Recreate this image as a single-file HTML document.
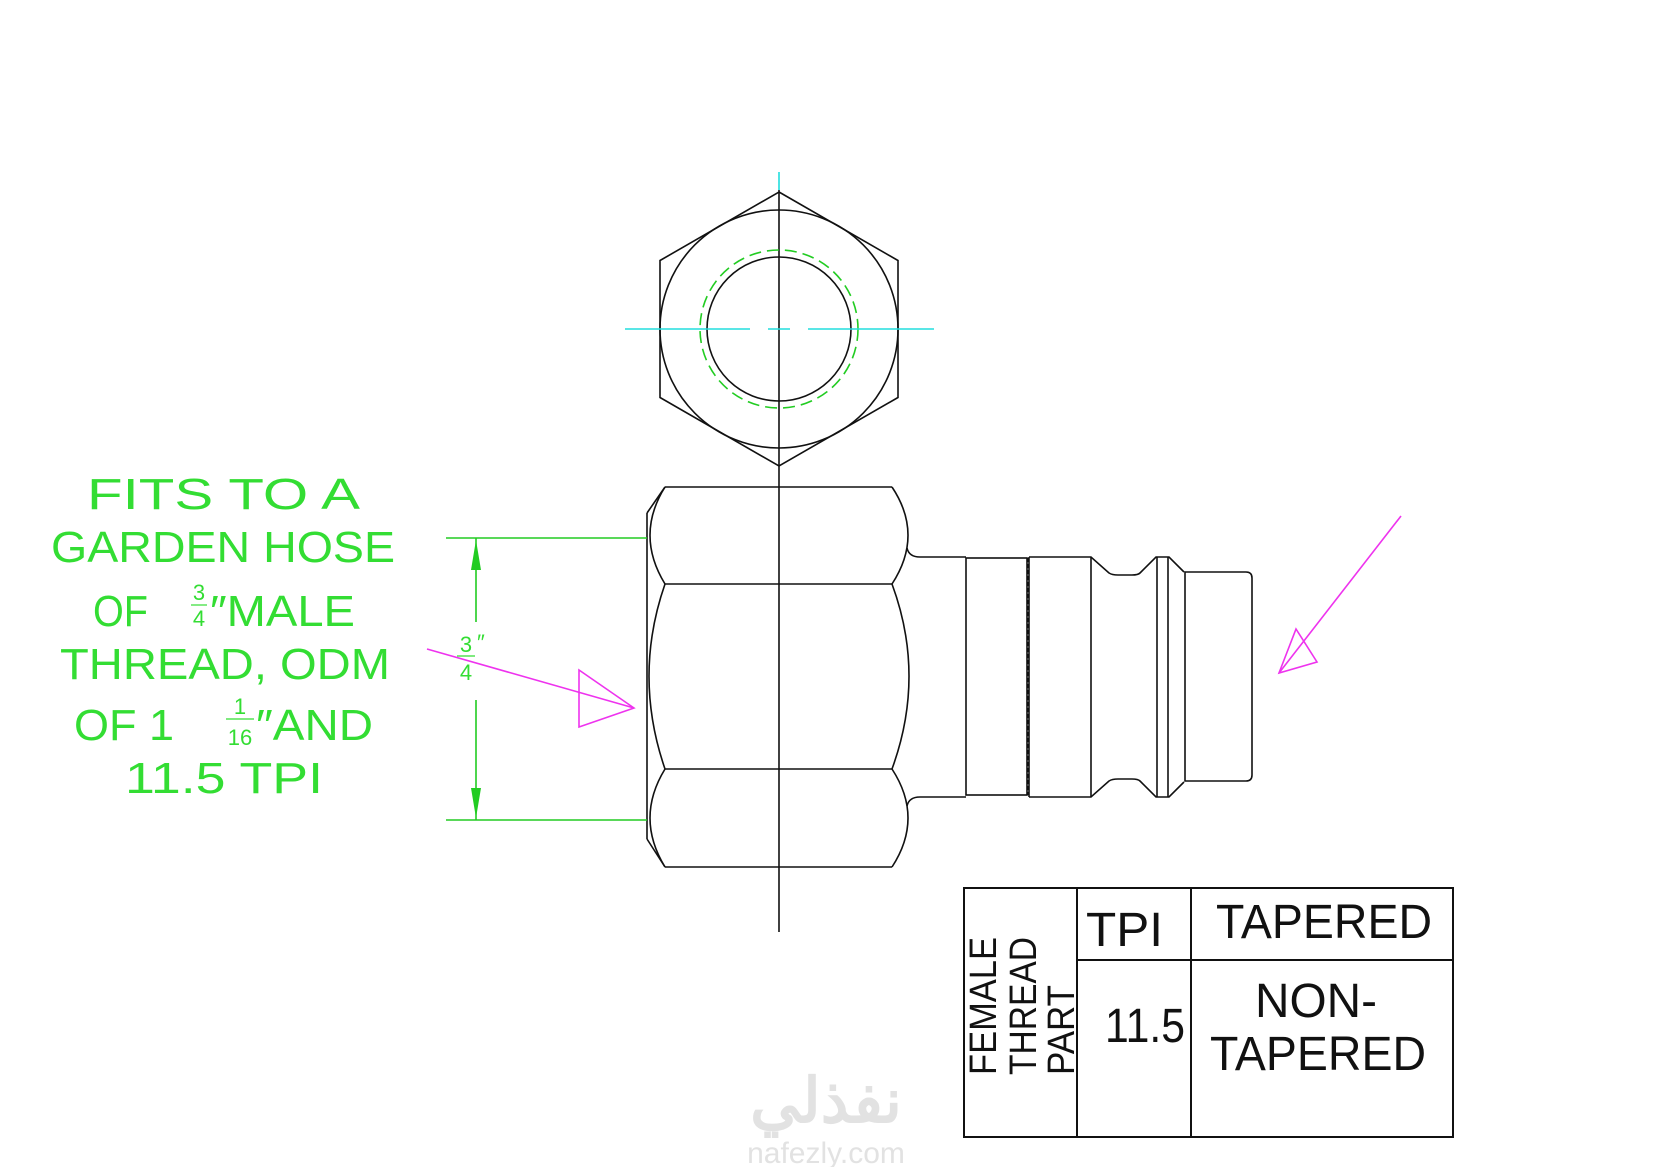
<!DOCTYPE html>
<html><head><meta charset="utf-8"><style>
html,body{margin:0;padding:0;background:#fff;}
svg{display:block;}
text{font-family:"Liberation Sans",sans-serif;}
</style></head><body>
<svg width="1653" height="1167" viewBox="0 0 1653 1167" xmlns="http://www.w3.org/2000/svg">
<rect width="1653" height="1167" fill="#fff"/>
<!-- watermark -->
<text x="826" y="1122" font-size="62" font-weight="bold" fill="#e2e2e2" text-anchor="middle" font-family="'DejaVu Sans',sans-serif">نفذلي</text>
<text x="826" y="1163" font-size="30" fill="#e2e2e2" text-anchor="middle">nafezly.com</text>

<g fill="none" stroke="#111" stroke-width="1.6">
<polygon points="779,192 898,260.5 898,397.5 779,466 660,397.5 660,260.5"/>
<circle cx="779" cy="329" r="119"/>
<circle cx="779" cy="329" r="72"/>
<line x1="779" y1="190" x2="779" y2="932"/>
<line x1="665" y1="487" x2="892" y2="487"/>
<line x1="665" y1="867" x2="892" y2="867"/>
<line x1="665" y1="584" x2="892" y2="584"/>
<line x1="665" y1="769" x2="892" y2="769"/>
<line x1="647" y1="513" x2="647" y2="839"/>
<line x1="647" y1="513" x2="665" y2="487"/>
<line x1="647" y1="839" x2="665" y2="867"/>
<path d="M665,487 Q635,535 665,584 Q633,676 665,769 Q635,818 665,867"/>
<path d="M892,487 Q924,535 892,584 Q926,676 892,769 Q924,818 892,867"/>
<path d="M907,548 Q909,557 920,557 L966,557"/>
<path d="M907,806 Q909,797 920,797 L966,797"/>
<rect x="966" y="558" width="61" height="237"/>
<line x1="1028" y1="558" x2="1028" y2="795" stroke-dasharray="4,2"/>
<path d="M1029,557 L1091,557 L1109,573 Q1112,575 1118,575 L1132,575 Q1138,575 1140,573 L1156,557 L1169,557 L1184,572"/>
<path d="M1029,797 L1091,797 L1109,781 Q1112,779 1118,779 L1132,779 Q1138,779 1140,781 L1156,797 L1169,797 L1184,782"/>
<line x1="1029" y1="557" x2="1029" y2="797"/>
<line x1="1091" y1="557" x2="1091" y2="797"/>
<line x1="1157" y1="557" x2="1157" y2="797"/>
<line x1="1168" y1="557" x2="1168" y2="797"/>
<path d="M1185,572 L1246,572 Q1252,572 1252,578 L1252,775 Q1252,781 1246,781 L1185,781 Z"/>
</g>
<circle cx="779" cy="329" r="79" fill="none" stroke="#2c2" stroke-width="1.6" stroke-dasharray="12,6"/>
<g stroke="#2dd" stroke-width="1.6">
<line x1="625" y1="329" x2="750" y2="329"/>
<line x1="768" y1="329" x2="790" y2="329"/>
<line x1="808" y1="329" x2="934" y2="329"/>
<line x1="779" y1="172" x2="779" y2="190"/>
</g>
<g stroke="#2c2" stroke-width="1.6" fill="#2c2">
<line x1="446" y1="538" x2="647" y2="538"/>
<line x1="446" y1="820" x2="647" y2="820"/>
<line x1="476" y1="538" x2="476" y2="622"/>
<line x1="476" y1="700" x2="476" y2="820"/>
<polygon points="476,540 471,570 481,570" stroke="none"/>
<polygon points="476,818 471,788 481,788" stroke="none"/>
</g>
<g fill="#3d3" font-size="22">
<text x="466" y="652" text-anchor="middle">3</text>
<line x1="457" y1="656" x2="475" y2="656" stroke="#3d3" stroke-width="1.2"/>
<text x="466" y="680" text-anchor="middle">4</text>
<text x="477" y="650">″</text>
</g>
<g stroke="#e3e" stroke-width="1.6" fill="none">
<line x1="427" y1="649" x2="634" y2="708"/>
<polygon points="634,708 579,670 579,727"/>
<line x1="1401" y1="516" x2="1279" y2="673"/>
<polygon points="1279,673 1296,629 1317,662"/>
</g>
<g fill="#3d3" font-size="44">
<text x="87" y="509" textLength="273" lengthAdjust="spacingAndGlyphs">FITS TO A</text>
<text x="51" y="562" textLength="344" lengthAdjust="spacingAndGlyphs">GARDEN HOSE</text>
<text x="93" y="626" textLength="55" lengthAdjust="spacingAndGlyphs">OF</text>
<text x="199" y="600" font-size="22" text-anchor="middle">3</text>
<line x1="191" y1="605" x2="207" y2="605" stroke="#3d3" stroke-width="1.2"/>
<text x="199" y="626" font-size="22" text-anchor="middle">4</text>
<text x="210" y="626" textLength="145" lengthAdjust="spacingAndGlyphs">″MALE</text>
<text x="60" y="679" textLength="330" lengthAdjust="spacingAndGlyphs">THREAD, ODM</text>
<text x="74" y="740" textLength="100" lengthAdjust="spacingAndGlyphs">OF 1</text>
<text x="240" y="714" font-size="22" text-anchor="middle">1</text>
<line x1="226" y1="719" x2="254" y2="719" stroke="#3d3" stroke-width="1.2"/>
<text x="240" y="745" font-size="22" text-anchor="middle">16</text>
<text x="256" y="740" textLength="117" lengthAdjust="spacingAndGlyphs">″AND</text>
<text x="125" y="793" textLength="198" lengthAdjust="spacingAndGlyphs">11.5 TPI</text>
</g>
<g fill="none" stroke="#111" stroke-width="2">
<rect x="964" y="888" width="489" height="249"/>
<line x1="1077" y1="888" x2="1077" y2="1137"/>
<line x1="1191" y1="888" x2="1191" y2="1137"/>
<line x1="1077" y1="960" x2="1453" y2="960"/>
</g>
<g fill="#111" font-size="48">
<text x="1086" y="946" textLength="77" lengthAdjust="spacingAndGlyphs">TPI</text>
<text x="1216" y="938" textLength="216" lengthAdjust="spacingAndGlyphs">TAPERED</text>
<text x="1105" y="1042" textLength="80" lengthAdjust="spacingAndGlyphs">11.5</text>
<text x="1255" y="1017" textLength="122" lengthAdjust="spacingAndGlyphs">NON-</text>
<text x="1210" y="1070" textLength="216" lengthAdjust="spacingAndGlyphs">TAPERED</text>
<g font-size="38">
<text transform="translate(996,1075) rotate(-90)" textLength="138" lengthAdjust="spacingAndGlyphs">FEMALE</text>
<text transform="translate(1036,1075) rotate(-90)" textLength="138" lengthAdjust="spacingAndGlyphs">THREAD</text>
<text transform="translate(1074,1075) rotate(-90)" textLength="90" lengthAdjust="spacingAndGlyphs">PART</text>
</g>
</g>
</svg>
</body></html>
